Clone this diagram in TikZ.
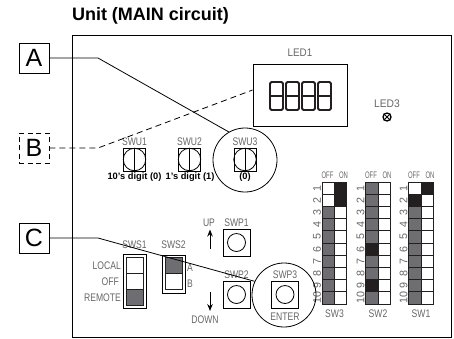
\documentclass[tikz,border=0pt]{standalone}
\usepackage{fontspec}
\setmainfont{Liberation Sans}
\usetikzlibrary{arrows.meta}
\definecolor{swgray}{HTML}{6E6E72}
\definecolor{swblack}{HTML}{231F20}
\definecolor{labgray}{HTML}{666666}

% one dip switch column: centre x, name, rows
\newcommand{\dipsw}[3]{
\foreach \n/\a/\b in {#3} {
\pgfmathsetmacro{\yy}{182+12.2*(\n-0.5)}
\node[cell, fill=\a] (#2off\n) at (#1-6.2,\yy) {};
\node[cell, fill=\b] (#2on\n) at (#1+6.2,\yy) {};
\node[rotate=90, lab, xscale=1.25] (#2num\n) at (#1-17.5,\yy) {\n};
}
\node[lab, xscale=0.8, font=\fontsize{9.5}{9.5}\selectfont] (#2o) at (#1-7,175) {OFF};
\node[lab, xscale=0.8, font=\fontsize{9.5}{9.5}\selectfont] (#2i) at (#1+9,175) {ON};
\node[lab] (#2t) at (#1,314) {#2};
}
% one seven segment digit
\newcommand{\segdigit}[1]{
\draw[seg] (#1,82) rectangle (#1+13,110);
\draw[seg, line width=2.6pt] (#1,96) -- (#1+13,96);
}

\begin{document}
\begin{tikzpicture}[
x=1pt, y=-1pt,
tag/.style={rectangle, draw, line width=0.9pt, minimum width=30pt, minimum height=30pt, inner sep=0pt, font=\fontsize{25}{25}\selectfont},
lab/.style={xscale=0.78, inner sep=0pt, text=labgray, font=\fontsize{11}{11}\selectfont},
boldlab/.style={inner sep=0pt, font=\fontsize{9.3}{9.3}\selectfont\bfseries},
ring/.style={circle, draw, line width=0.8pt, minimum size=64pt, inner sep=0pt},
cell/.style={rectangle, draw=swblack, line width=0.9pt, minimum width=12.4pt, minimum height=12.2pt, inner sep=0pt},
rotary/.style={rectangle, draw, line width=0.8pt, minimum width=22pt, minimum height=23pt, inner sep=0pt},
knob/.style={circle, draw, line width=0.8pt, minimum size=22.5pt, inner sep=0pt},
pushb/.style={rectangle, draw, line width=0.8pt, minimum size=27pt, inner sep=0pt},
pushk/.style={circle, draw, line width=0.8pt, minimum size=18pt, inner sep=0pt},
slide/.style={rectangle, draw, line width=0.8pt, minimum width=23pt, inner sep=0pt},
slot/.style={rectangle, draw=swblack, line width=0.8pt, minimum width=17pt, inner sep=0pt},
seg/.style={line width=1.9pt, rounded corners=1.5pt, swblack},
lead/.style={line width=0.8pt},
leaddash/.style={line width=0.8pt, dash pattern=on 6pt off 4pt},
arr/.style={-{Stealth[length=7pt, width=5.5pt]}, line width=1pt}
]
\useasboundingbox (0,0) rectangle (454,338);

\node[inner sep=0pt, font=\fontsize{18}{18}\selectfont\bfseries] (title) at (150.5,15.5) {Unit (MAIN circuit)};
\node[rectangle, draw, line width=0.9pt, minimum width=379pt, minimum height=302pt, inner sep=0pt] (board) at (261.5,186) {};

% rotary switches
\foreach \i/\x in {1/134.5,2/189.5,3/245} {
\node[rotary] (swu\i) at (\x,159.5) {};
\node[knob] (knob\i) at (\x,159.5) {};
\draw[line width=0.8pt] (swu\i.north) -- (swu\i.south);
\node[lab] (swul\i) at (\x,142) {SWU\i};
}
\node[boldlab] (dig1) at (134.5,177.5) {10's digit (0)};
\node[boldlab] (dig2) at (190,177.5) {1's digit (1)};
\node[boldlab] (dig3) at (245,177.5) {(0)};

% LED
\node[rectangle, draw, line width=0.9pt, minimum width=94pt, minimum height=62pt, inner sep=0pt] (led1) at (300,95) {};
\node[lab, xscale=1.15] (led1l) at (300,52.5) {LED1};
\foreach \x in {270,286,302,318} {\segdigit{\x}}
\node[lab, xscale=1.2] (led3l) at (387,103.5) {LED3};
\node[circle, draw, line width=1.3pt, minimum size=8pt, inner sep=0pt] (led3) at (387,117) {};
\draw[line width=0.9pt] (led3.north west) -- (led3.south east);
\draw[line width=0.9pt] (led3.north east) -- (led3.south west);

% slide switches
\node[slide, minimum height=54pt] (sws1) at (134.5,281.5) {};
\node[slot, minimum height=16pt] (sws1a) at (134.5,265.5) {};
\node[slot, minimum height=16pt] (sws1b) at (134.5,281) {};
\node[slot, minimum height=16pt, fill=swgray] (sws1c) at (134.5,297) {};
\node[lab] (sws1l) at (134.5,244.5) {SWS1};
\node[lab, anchor=east] (local) at (121,266) {LOCAL};
\node[lab, anchor=east] (off) at (119,281.5) {OFF};
\node[lab, anchor=east] (remote) at (121,297.5) {REMOTE};

\node[slide, minimum height=38pt] (sws2) at (173.5,274) {};
\node[slot, minimum height=15.5pt, fill=swgray] (sws2a) at (173.5,265.5) {};
\node[slot, minimum height=16.5pt] (sws2b) at (173.5,281.5) {};
\node[lab] (sws2l) at (173.5,244.5) {SWS2};
\node[lab] (swsa) at (190,268) {A};
\node[lab] (swsb) at (190,283.5) {B};

% push buttons
\node[pushb] (swp1) at (236.5,242.5) {};
\node[pushk] (k1) at (236.5,242.5) {};
\node[lab] (swp1l) at (236.5,222.5) {SWP1};
\node[pushb] (swp2) at (236.5,294.5) {};
\node[pushk] (k2) at (236.5,294.5) {};
\node[lab] (swp2l) at (236.5,275) {SWP2};
\node[pushb] (swp3) at (285,294.5) {};
\node[pushk] (k3) at (285,294.5) {};
\node[lab] (swp3l) at (285,275) {SWP3};
\node[lab] (enter) at (285,317) {ENTER};
\node[lab] (up) at (209,222.5) {UP};
\node[lab] (down) at (205,320) {DOWN};
\coordinate (upa) at (210,249);
\coordinate (upb) at (210,229.5);
\coordinate (dna) at (210,292);
\coordinate (dnb) at (210,311);
\draw[arr] (upa) -- (upb);
\draw[arr] (dna) -- (dnb);

% dip switches
\dipsw{334.5}{SW3}{1/white/swblack,2/white/swblack,3/swgray/white,4/swgray/white,5/swgray/white,6/swgray/white,7/swgray/white,8/swgray/white,9/swgray/white,10/swgray/white}
\dipsw{378}{SW2}{1/swgray/white,2/swgray/white,3/swgray/white,4/swgray/white,5/swgray/white,6/swblack/white,7/swgray/white,8/swgray/white,9/swblack/white,10/swgray/white}
\dipsw{421}{SW1}{1/white/swblack,2/swblack/white,3/swgray/white,4/swgray/white,5/swgray/white,6/swgray/white,7/swgray/white,8/swgray/white,9/swgray/white,10/swgray/white}

% callouts
\node[ring] (ringa) at (245,160) {};
\node[ring] (ringc) at (284,295) {};
\node[tag] (A) at (34,58) {A};
\node[tag, dash pattern=on 5pt off 3.5pt] (B) at (34,148) {B};
\node[tag] (C) at (34,238) {C};
\coordinate (ea) at (98,58);
\coordinate (eb) at (98,148);
\coordinate (ec) at (98,238);
\draw[lead] (A) -- (ea) -- (ringa.120);
\draw[leaddash] (B) -- (eb) -- (led1.174);
\draw[lead] (C) -- (ec) -- (ringc.155);
\end{tikzpicture}
\end{document}
